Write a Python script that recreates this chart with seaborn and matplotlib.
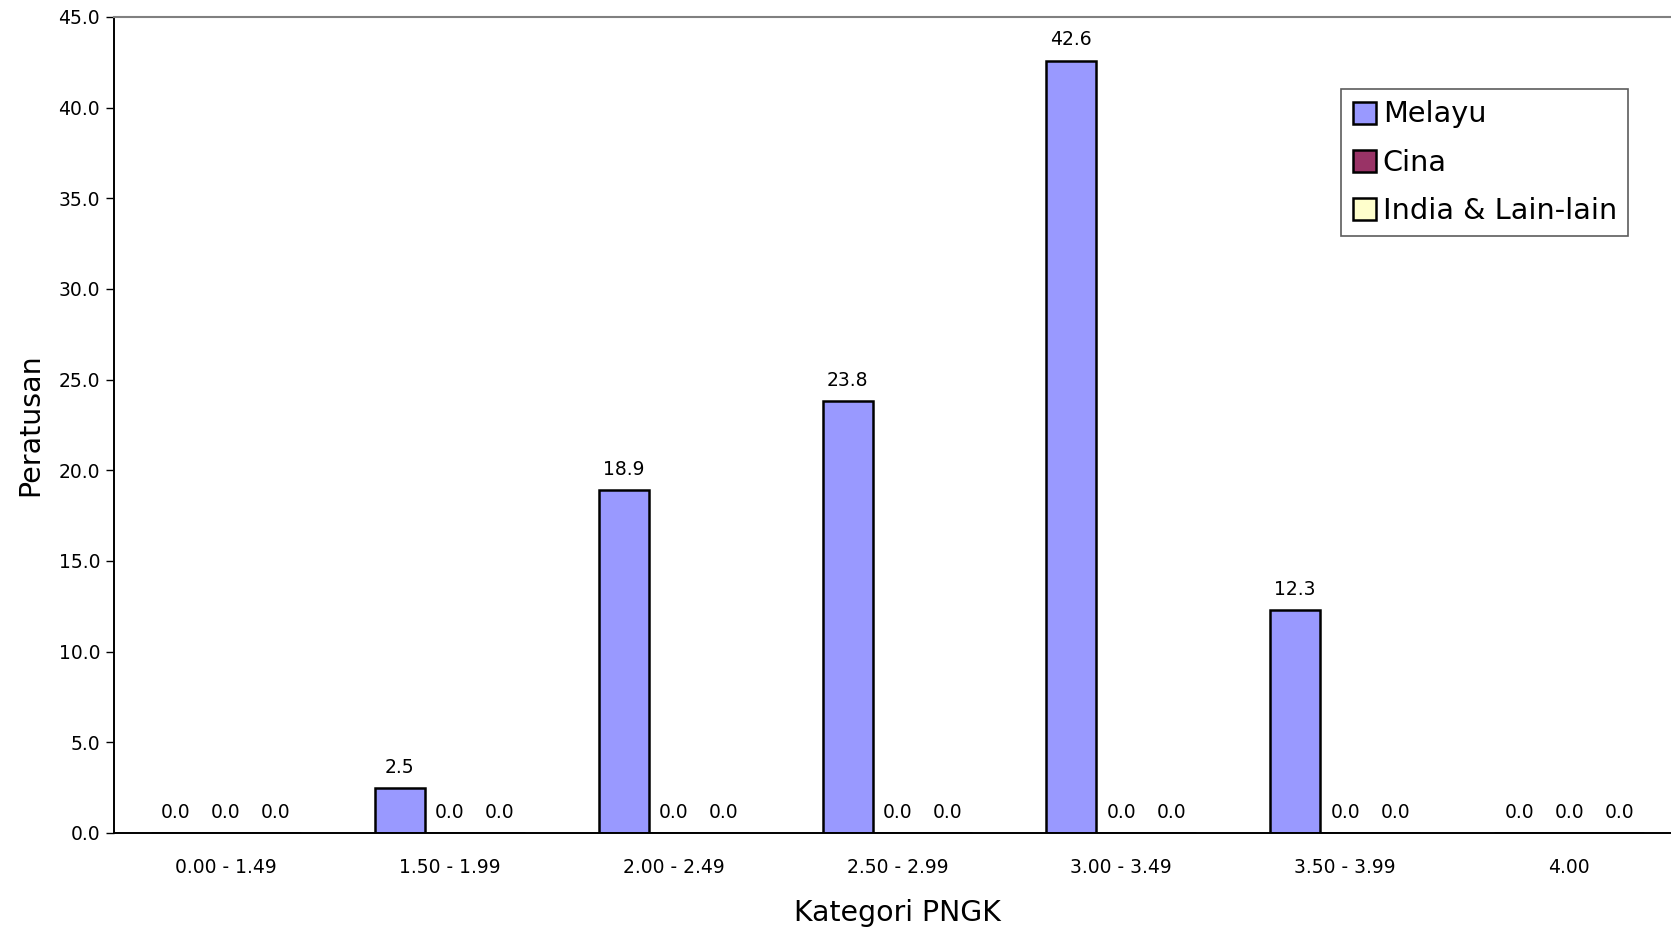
import matplotlib
matplotlib.use("Agg")
import matplotlib.pyplot as plt
import seaborn as sns
import pandas as pd
import numpy as np

categories = ["0.00 - 1.49", "1.50 - 1.99", "2.00 - 2.49", "2.50 - 2.99",
              "3.00 - 3.49", "3.50 - 3.99", "4.00"]
series_names = ["Melayu", "Cina", "India & Lain-lain"]
melayu = [0.0, 2.5, 18.9, 23.8, 42.6, 12.3, 0.0]
cina = [0.0, 0.0, 0.0, 0.0, 0.0, 0.0, 0.0]
india = [0.0, 0.0, 0.0, 0.0, 0.0, 0.0, 0.0]
colors = ["#9999FF", "#993366", "#FFFFCC"]
yticks = [0, 5, 10, 15, 20, 25, 30, 35, 40, 45]

df = pd.DataFrame({
    "Kategori": categories * 3,
    "Kaum": [series_names[0]] * 7 + [series_names[1]] * 7 + [series_names[2]] * 7,
    "Peratusan": melayu + cina + india,
})

sns.set_style("white")
plt.rcParams["font.family"] = ["DejaVu Sans"]
plt.rcParams["text.color"] = "black"
plt.rcParams["axes.labelcolor"] = "black"
plt.rcParams["xtick.color"] = "black"
plt.rcParams["ytick.color"] = "black"

W, H = 1671, 931
fig = plt.figure(figsize=(W / 100, H / 100), dpi=100)
left, right, top, bottom = 114, 1681, 17, 833
ax = fig.add_axes([left / W, 1 - bottom / H, (right - left) / W, (bottom - top) / H])

sns.barplot(data=df, x="Kategori", y="Peratusan", hue="Kaum", order=categories,
            hue_order=series_names, palette=colors, width=0.67, dodge=True,
            edgecolor="black", linewidth=1.8, saturation=1, ax=ax, legend=True)

for cont in ax.containers:
    ax.bar_label(cont, fmt="%.1f", padding=8, fontsize=13.5, color="black")

ax.set_ylim(0, 45)
ax.set_xlim(-0.5, 6.5)
ax.set_yticks(yticks)
ax.set_yticklabels([f"{v:.1f}" for v in yticks], fontsize=13.5)
ax.set_xticks(range(len(categories)))
ax.set_xticklabels(categories, fontsize=13.5)
ax.tick_params(axis="x", which="major", length=0, pad=18)
ax.set_xticks(np.arange(-0.5, 6.5, 1.0), minor=True)
ax.tick_params(axis="x", which="minor", length=6, width=1, color="black", direction="out")
ax.tick_params(axis="y", length=6, width=1, color="black", direction="out", left=True, pad=4)

ax.set_xlabel("Kategori PNGK", fontsize=20.4, labelpad=16)
ax.set_ylabel("Peratusan", fontsize=20.5, labelpad=10)

for s in ["left", "bottom"]:
    ax.spines[s].set_color("black")
    ax.spines[s].set_linewidth(1.4)
ax.spines["top"].set_color("#808080")
ax.spines["top"].set_linewidth(1.5)
ax.spines["right"].set_visible(False)

handles, labels = ax.get_legend_handles_labels()
leg = ax.legend(handles, labels, loc="upper left",
                bbox_to_anchor=(1341 / W, 1 - 89 / H), bbox_transform=fig.transFigure,
                fontsize=20.7, frameon=True, fancybox=False, shadow=False,
                handlelength=0.8, handleheight=0.8, handletextpad=0.25,
                labelspacing=0.7, borderpad=0.4, borderaxespad=0)
leg.get_frame().set_edgecolor("#333333")
leg.get_frame().set_linewidth(1.2)

fig.savefig("out.png", dpi=100)
